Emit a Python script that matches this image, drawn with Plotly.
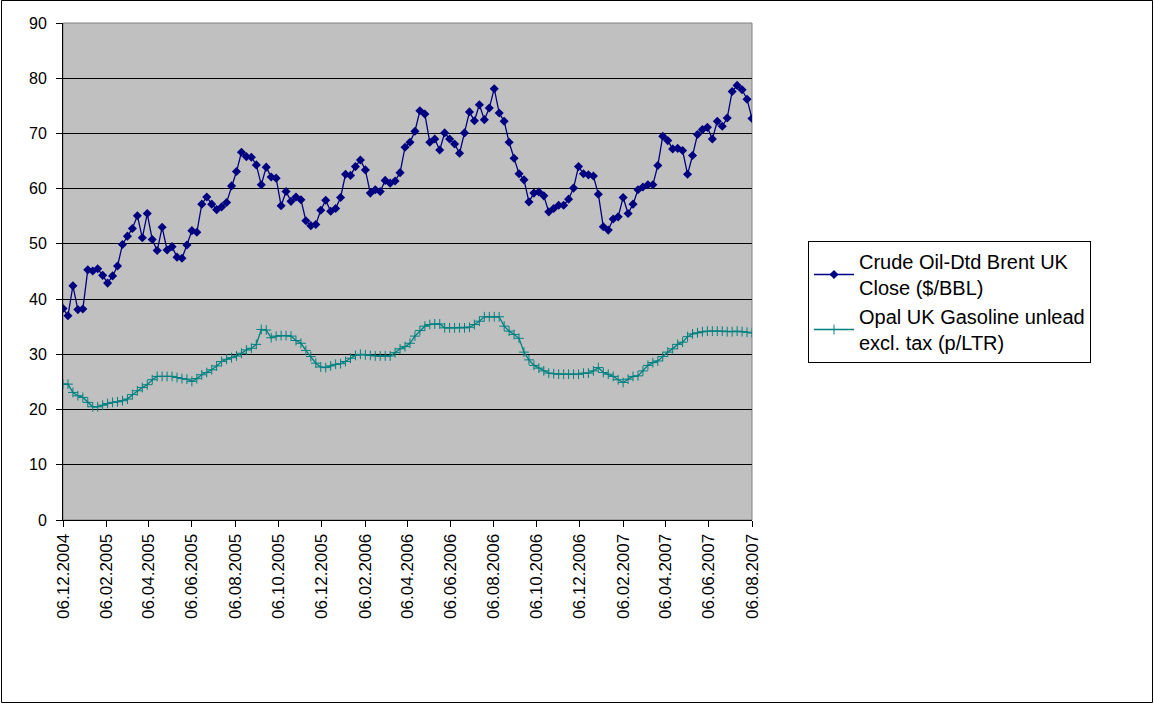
import pandas as pd
import plotly.graph_objects as go

start_date = "2004-12-06"
n_weeks = 140
dates = pd.date_range(start_date, periods=n_weeks, freq="7D")

crude_brent = [
    38.3, 37.0, 42.4, 38.1, 38.2, 45.3, 45.1, 45.5, 44.3, 42.9,
    44.2, 46.0, 49.9, 51.4, 52.8, 55.1, 51.1, 55.5, 50.8, 48.8,
    53.0, 48.9, 49.5, 47.6, 47.4, 49.8, 52.4, 52.1, 57.2, 58.5,
    57.2, 56.2, 56.7, 57.5, 60.5, 63.1, 66.6, 65.8, 65.7, 64.3,
    60.7, 63.9, 62.1, 61.9, 56.9, 59.5, 57.7, 58.5, 58.0, 54.2,
    53.3, 53.5, 56.1, 57.9, 55.9, 56.4, 58.4, 62.6, 62.4, 64.0,
    65.2, 63.4, 59.2, 59.8, 59.5, 61.5, 61.0, 61.4, 62.9, 67.5,
    68.4, 70.4, 74.1, 73.5, 68.4, 69.0, 67.0, 70.1, 69.0, 68.1,
    66.4, 70.1, 73.9, 72.3, 75.2, 72.5, 74.6, 78.1, 73.7, 72.2,
    68.4, 65.5, 62.7, 61.6, 57.6, 59.2, 59.4, 58.7, 55.8, 56.4,
    57.0, 57.0, 58.1, 60.1, 64.0, 62.7, 62.5, 62.3, 59.0, 53.1,
    52.5, 54.5, 54.9, 58.4, 55.5, 57.2, 59.8, 60.3, 60.7, 60.7,
    64.2, 69.5, 68.7, 67.2, 67.3, 66.9, 62.6, 66.0, 69.8, 70.7,
    71.1, 69.0, 72.2, 71.3, 72.8, 77.6, 78.7, 77.9, 76.2, 72.7,
]

gasoline_uk = [
    24.6, 24.6, 23.1, 22.5, 22.2, 21.3, 20.5, 20.5, 20.8, 21.1,
    21.3, 21.4, 21.6, 21.9, 22.7, 23.4, 24.0, 24.5, 25.4, 26.0,
    26.0, 26.0, 26.0, 25.8, 25.6, 25.5, 25.1, 25.6, 26.3, 26.7,
    27.2, 27.9, 28.7, 29.1, 29.4, 29.7, 30.2, 30.8, 31.1, 31.8,
    34.5, 34.4, 33.0, 33.3, 33.4, 33.4, 33.3, 32.5, 32.0, 30.7,
    29.6, 28.4, 27.7, 27.6, 27.9, 28.2, 28.3, 28.7, 29.3, 29.8,
    30.0, 29.9, 29.8, 29.7, 29.7, 29.7, 29.7, 30.3, 31.0, 31.4,
    32.0, 33.3, 34.3, 35.1, 35.4, 35.5, 35.5, 34.8, 34.8, 34.8,
    34.8, 34.8, 34.9, 35.4, 36.0, 36.8, 36.8, 36.8, 36.8, 35.1,
    34.2, 33.6, 32.9, 30.4, 29.0, 28.0, 27.5, 27.0, 26.6, 26.5,
    26.4, 26.4, 26.4, 26.4, 26.4, 26.6, 26.6, 27.0, 27.6, 26.7,
    26.4, 26.0, 25.4, 24.9, 25.5, 26.0, 26.1, 27.0, 28.0, 28.5,
    28.8, 29.6, 30.4, 31.0, 31.8, 32.2, 33.2, 33.7, 33.9, 34.1,
    34.2, 34.2, 34.2, 34.2, 34.1, 34.1, 34.2, 34.1, 34.0, 33.9,
]

tick_dates = [
    "2004-12-06", "2005-02-06", "2005-04-06", "2005-06-06", "2005-08-06",
    "2005-10-06", "2005-12-06", "2006-02-06", "2006-04-06", "2006-06-06",
    "2006-08-06", "2006-10-06", "2006-12-06", "2007-02-06", "2007-04-06",
    "2007-06-06", "2007-08-06",
]
tick_labels = [
    "06.12.2004", "06.02.2005", "06.04.2005", "06.06.2005", "06.08.2005",
    "06.10.2005", "06.12.2005", "06.02.2006", "06.04.2006", "06.06.2006",
    "06.08.2006", "06.10.2006", "06.12.2006", "06.02.2007", "06.04.2007",
    "06.06.2007", "06.08.2007",
]

series_names = [
    "Crude Oil-Dtd Brent UK<br>Close ($/BBL)",
    "Opal UK Gasoline unlead<br>excl. tax (p/LTR)",
]

NAVY = "#000080"
TEAL = "#008080"
FONT = "Arial, Liberation Sans, sans-serif"

fig = go.Figure()
fig.add_trace(go.Scatter(
    x=dates, y=crude_brent, name=series_names[0], mode="lines+markers",
    line=dict(color=NAVY, width=1.3),
    marker=dict(symbol="diamond", size=7, color=NAVY),
))
fig.add_trace(go.Scatter(
    x=dates, y=gasoline_uk, name=series_names[1], mode="lines+markers",
    line=dict(color=TEAL, width=1.3),
    marker=dict(symbol="cross-thin", size=7, color=TEAL,
                line=dict(color=TEAL, width=1)),
))

W, H = 1154, 704
L, R, T, B = 63, 402, 23, 184
pw, ph = W - L - R, H - T - B

def px_x(xp):
    return (xp - L) / pw

def px_y(yp):
    return (H - B - yp) / ph

fig.update_layout(
    width=W, height=H,
    margin=dict(l=L, r=R, t=T, b=B, pad=0),
    paper_bgcolor="white",
    plot_bgcolor="#C0C0C0",
    font=dict(family=FONT, color="black", size=16),
    showlegend=True,
    legend=dict(
        x=px_x(808), xanchor="left",
        y=px_y(302), yanchor="middle",
        bgcolor="white", bordercolor="black", borderwidth=1,
        font=dict(family=FONT, size=20, color="black"),
        itemwidth=40,
        tracegroupgap=0,
    ),
    xaxis=dict(
        type="date",
        range=[dates[0], dates[-1]],
        tickmode="array", tickvals=tick_dates, ticktext=tick_labels,
        tickangle=-90,
        ticks="outside", ticklen=6, tickcolor="black",
        showline=True, linecolor="black", linewidth=1,
        showgrid=False, zeroline=False,
        tickfont=dict(family=FONT, size=17, color="black"),
    ),
    yaxis=dict(
        range=[0, 90], tickmode="linear", tick0=0, dtick=10,
        ticks="outside", ticklen=6, tickcolor="black",
        showline=True, linecolor="black", linewidth=1,
        showgrid=True, gridcolor="black", gridwidth=1,
        zeroline=False,
        ticklabelstandoff=6,
        tickfont=dict(family=FONT, size=16, color="black"),
    ),
    shapes=[
        # plot-area border (grey, as in the reference)
        dict(type="rect", xref="paper", yref="paper", x0=0, x1=1, y0=0, y1=1,
             line=dict(color="#808080", width=1), layer="below"),
        # chart-area outer frame
        dict(type="rect", xref="paper", yref="paper",
             x0=px_x(1.5), x1=px_x(1152.5), y0=px_y(702.5), y1=px_y(0.5),
             line=dict(color="black", width=1), layer="below"),
    ],
)

fig.write_html(
    "out.html",
    config={"displayModeBar": False},
    post_script="document.body.style.margin='0';"
                "document.documentElement.style.overflow='hidden';"
                "document.body.style.overflow='hidden';",
)
